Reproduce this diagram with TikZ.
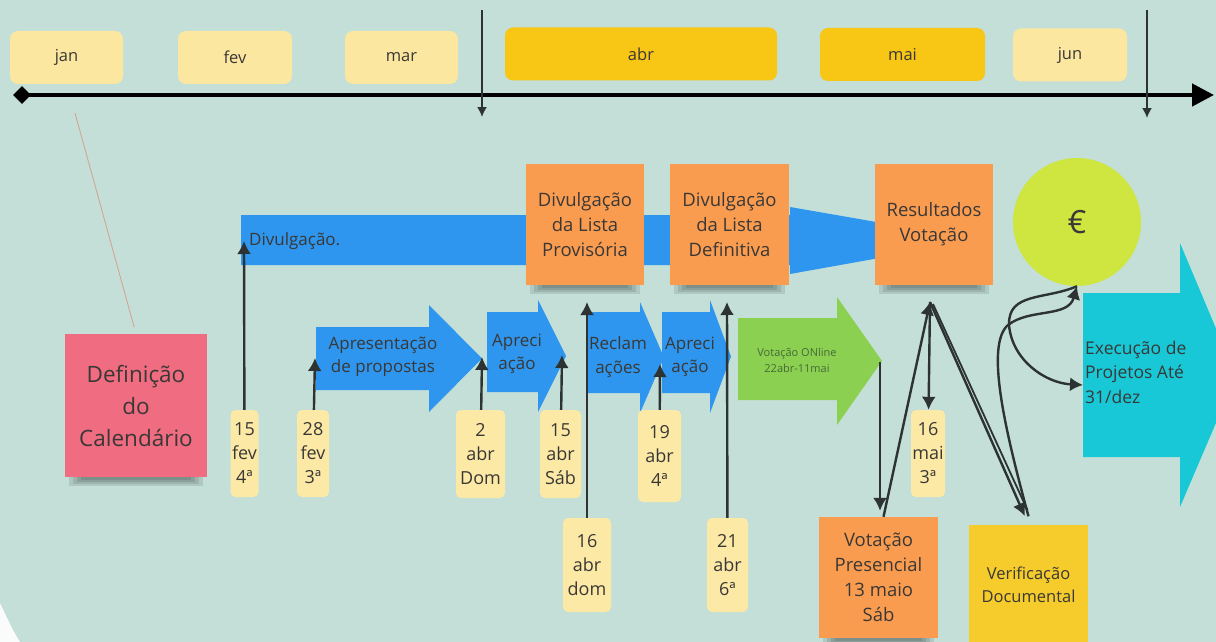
\documentclass[tikz,border=0pt]{standalone}
\usepackage{fontspec}
\setmainfont{Open Sans}
\usetikzlibrary{arrows.meta, shapes.geometric}

\definecolor{bgteal}{RGB}{195,223,216}
\definecolor{ink}{RGB}{58,56,54}
\definecolor{wire}{RGB}{45,50,50}
\definecolor{palemonth}{RGB}{252,231,160}
\definecolor{deepmonth}{RGB}{248,198,20}
\definecolor{tagyellow}{RGB}{252,233,166}
\definecolor{notepink}{RGB}{239,108,129}
\definecolor{noteorange}{RGB}{250,156,80}
\definecolor{noteyellow}{RGB}{245,204,44}
\definecolor{stepblue}{RGB}{46,150,238}
\definecolor{votegreen}{RGB}{140,208,82}
\definecolor{votetext}{RGB}{70,105,55}
\definecolor{eurogreen}{RGB}{207,229,64}
\definecolor{execcyan}{RGB}{24,200,214}
\definecolor{leaderline}{RGB}{214,160,140}

\begin{document}
\begin{tikzpicture}[x=1pt, y=-1pt,
  month/.style={rounded corners=8pt, minimum height=53pt, text=ink, font=\fontsize{16.5}{20}\selectfont},
  datetag/.style={fill=tagyellow, rounded corners=5pt, align=center, inner sep=0pt, text=ink, font=\fontsize{18}{24}\selectfont},
  sticky/.style={fill=noteorange, align=center, text=ink, minimum width=118pt, minimum height=121pt, inner sep=0pt, font=\fontsize{18.5}{25}\selectfont},
  notebase/.style={fill=black, opacity=0.1},
  steplabel/.style={align=center, text=ink, inner sep=0pt, font=\fontsize{17}{23.5}\selectfont},
  arr/.style={draw=wire, line width=2.4pt, -{Latex[length=13pt, width=14pt]}},
  cutline/.style={draw=wire, line width=1.8pt, -{Latex[length=10pt, width=10pt]}}]
  \useasboundingbox[fill=bgteal] (0,0) rectangle (1216,642);
  \fill[white!92!bgteal] (0,603) .. controls (8,620) and (14,633) .. (20,642) -- (0,642) -- cycle;

  % months and time line
  \foreach \nm/\cx/\cy/\w/\col in {jan/66.5/57.5/113/palemonth, fev/235/57.5/114/palemonth, mar/401.5/57.5/113/palemonth, abr/641/54/272/deepmonth, mai/902.5/54.5/165/deepmonth, jun/1070/55/114/palemonth}
    \node[month, fill=\col, minimum width=\w pt] (\nm) at (\cx,\cy) {\nm};
  \node[diamond, fill=black, minimum size=18pt, inner sep=0pt] (tstart) at (22,95) {};
  \coordinate (tend) at (1214,95);
  \draw[line width=4.5pt, -{Triangle[length=22pt, width=22pt]}] (tstart.center) -- (tend);
  \coordinate (marcut) at (482,10);
  \coordinate (marend) at (482,117);
  \draw[cutline] (marcut) -- (marend);
  \coordinate (juncut) at (1147,10);
  \coordinate (junend) at (1147,118);
  \draw[cutline] (juncut) -- (junend);

  % blue bar and step arrows
  \fill[stepblue] (241,215) -- (790,215) -- (790,207) -- (980,240) -- (790,274) -- (790,265) -- (241,265) -- cycle;
  \node[anchor=west, text=ink, inner sep=0pt, font=\fontsize{17}{20}\selectfont] (divlabel) at (249,241) {Divulgação.};
  \foreach \l/\st/\sb/\hx/\ht/\hb/\tx/\col in {316/327/390/429/305/412/482/stepblue, 487/312/392/538/300/412/566/stepblue, 587/312/393/640/302/413/664/stepblue, 662/312/393/710/300/413/731/stepblue, 738/318/400/837/297/425/882/votegreen}
    \fill[\col] (\l,\st) -- (\hx,\st) -- (\hx,\ht) -- (\tx,{(\ht+\hb)/2}) -- (\hx,\hb) -- (\hx,\sb) -- (\l,\sb) -- cycle;
  \fill[execcyan] (1083,293) -- (1180,293) -- (1180,243) -- (1236,376) -- (1180,507) -- (1180,457) -- (1083,457) -- cycle;
  \node[steplabel] (apres) at (383,357) {Apresentação\\de propostas};
  \node[steplabel] (aprec1) at (517,354) {Apreci\\ação};
  \node[steplabel] (reclam) at (618,357) {Reclam\\ações};
  \node[steplabel] (aprec2) at (690,357) {Apreci\\ação};
  \node[steplabel, text=votetext, font=\fontsize{11}{16}\selectfont] (online) at (797,360) {Votação ONline\\22abr-11mai};
  \node[steplabel, anchor=west, align=left, font=\fontsize{17.5}{24.5}\selectfont] (execucao) at (1085,372) {Execução de\\Projetos Até\\31/dez};

  % notes
  \node[sticky, fill=notepink, minimum width=142pt, minimum height=143pt, font=\fontsize{22.5}{32}\selectfont] (defcal) at (136,405.5) {Definição\\do\\Calendário};
  \node[sticky] (provisoria) at (585,224.5) {Divulgação\\da Lista\\Provisória};
  \node[sticky, minimum width=119pt] (definitiva) at (729.5,224.5) {Divulgação\\da Lista\\Definitiva};
  \node[sticky] (resultados) at (934,224) {Resultados\\Votação};
  \node[sticky, minimum width=119pt] (presencial) at (878.5,577.5) {Votação\\Presencial\\13 maio\\Sáb};
  \node[sticky, fill=noteyellow, minimum width=119pt, font=\fontsize{16.5}{23}\selectfont] (verificacao) at (1028.5,585) {Verificação\\Documental};
  \foreach \nm in {defcal, provisoria, definitiva, resultados, presencial}
    \foreach \s in {0,4,8,12}
      \fill[notebase] ([xshift={4pt+\s pt}]\nm.south west) rectangle ([xshift={-4pt-\s pt}, yshift={-9pt+0.5*\s pt}]\nm.south east);
  \node[circle, fill=eurogreen, minimum size=128pt, inner sep=0pt, text=ink, font=\fontsize{32}{32}\selectfont] (euro) at (1077,222) {€};

  % dates
  \foreach \nm/\cx/\cy/\w/\h/\txt in {fev15/244.5/453.5/28/87/{15\\fev\\4ª}, fev28/313/453.5/32/87/{28\\fev\\3ª}, abr2/480.5/454/49/88/{2\\abr\\Dom}, abr15/560.5/454/41/88/{15\\abr\\Sáb}, abr16/587/565/48/94/{16\\abr\\dom}, abr19/659.5/456/43/92/{19\\abr\\4ª}, abr21/727.5/565/41/94/{21\\abr\\6ª}, mai16/928/453.5/34/87/{16\\mai\\3ª}}
    \node[datetag, minimum width=\w pt, minimum height=\h pt] (\nm) at (\cx,\cy) {\txt};

  % connectors
  \coordinate (janmark) at (75,113);
  \draw[leaderline, line width=0.8pt, shorten >=7pt] (janmark) -- (defcal.north);
  \coordinate (divstart) at (244,241);
  \coordinate (apresin) at (315,358);
  \coordinate (apresend) at (482,357);
  \coordinate (aprecend) at (562,355);
  \coordinate (provin) at (587,302);
  \coordinate (reclamend) at (660,364);
  \coordinate (defin) at (727,302);
  \draw[arr] (fev15) -- (divstart);
  \draw[arr] (fev28) -- (apresin);
  \draw[arr] (abr2) -- (apresend);
  \draw[arr] (abr15) -- (aprecend);
  \draw[arr] (abr16) -- (provin);
  \draw[arr] (abr19) -- (reclamend);
  \draw[arr] (abr21) -- (defin);
  \coordinate (onlinetip) at (880,362);
  \coordinate (hub) at (930,302);
  \coordinate (execin) at (1083,385);
  \draw[arr, shorten >=6pt] (onlinetip) -- (onlinetip |- presencial.north);
  \draw[arr] ([xshift=5pt]presencial.north) -- (hub);
  \draw[arr] (hub) -- (mai16);
  \draw[arr, shorten >=9pt] (hub) -- (verificacao.north);
  \draw[draw=wire, line width=1.8pt] ([xshift=3pt, yshift=-2pt]hub) -- ([xshift=-1pt, yshift=14pt]verificacao.north);
  \draw[arr] ([yshift=8pt]verificacao.north) .. controls (1005,430) and (985,345) .. (1008,325) .. controls (1030,308) and (1068,318) .. (euro.south);
  \draw[arr] (euro.south) .. controls (1045,300) and (1008,292) .. (1009,325) .. controls (1012,360) and (1045,383) .. (execin);
\end{tikzpicture}
\end{document}
